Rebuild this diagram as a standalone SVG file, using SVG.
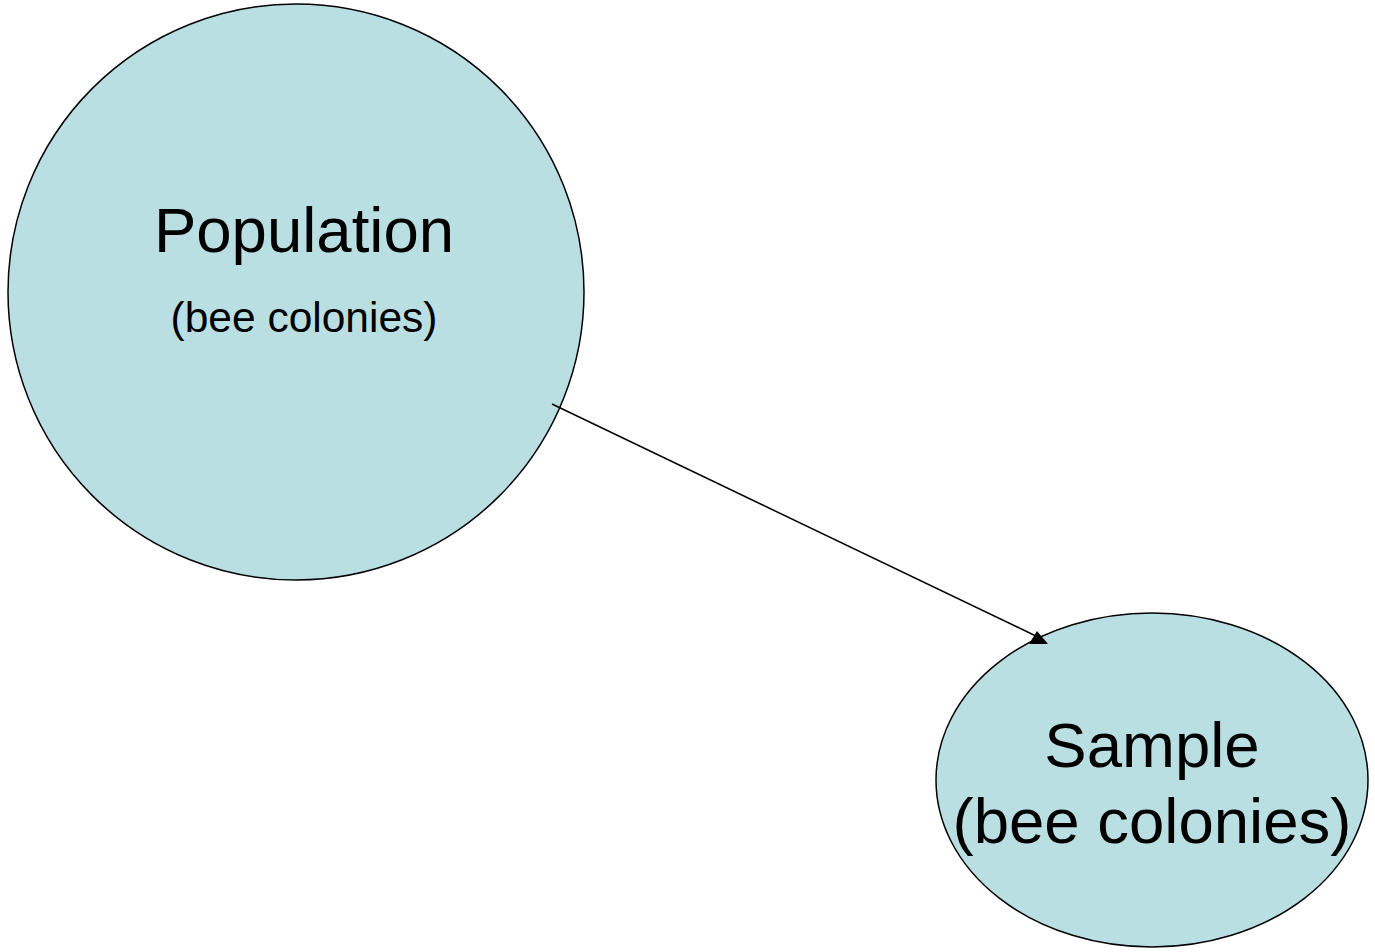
<svg xmlns="http://www.w3.org/2000/svg" width="1375" height="952" viewBox="0 0 1375 952">
<style>
.node{fill:#B9DFE3;stroke:#000;stroke-width:1.5}
.t{font-family:"Liberation Sans",Arial,sans-serif;fill:#000;text-anchor:middle}
.edge{stroke:#000;stroke-width:1.5;fill:none}
</style>
<rect width="1375" height="952" fill="#fff"/>
<g id="population">
<circle class="node" cx="296" cy="292" r="288"/>
<text class="t" x="304" y="252" font-size="63.5">Population</text>
<text class="t" x="304" y="332" font-size="42.5">(bee colonies)</text>
</g>
<g id="sample">
<ellipse class="node" cx="1152" cy="780" rx="216" ry="167"/>
<text class="t" x="1152" y="767" font-size="63.5">Sample</text>
<text class="t" x="1152" y="843" font-size="63.5">(bee colonies)</text>
</g>
<g id="connectors">
<line class="edge" x1="552" y1="404" x2="1038" y2="637"/>
<polygon points="1037,631 1048,644 1029,644" fill="#000"/>
</g>
</svg>
